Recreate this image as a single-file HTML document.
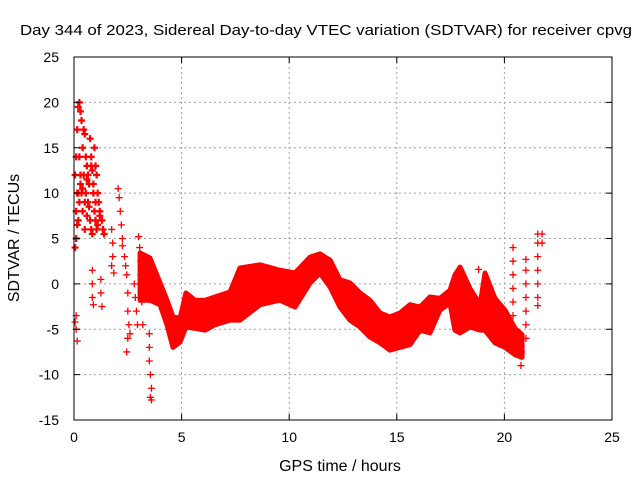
<!DOCTYPE html>
<html><head><meta charset="utf-8"><style>
html,body{margin:0;padding:0;background:#fff;}
svg{display:block;font-family:"Liberation Sans",Arial,sans-serif;}
</style></head><body>
<svg id="chart" width="640" height="480" viewBox="0 0 640 480" xmlns="http://www.w3.org/2000/svg">
<rect width="640" height="480" fill="#fff"/>
<text x="20" y="35" font-size="15" textLength="612" lengthAdjust="spacingAndGlyphs">Day 344 of 2023, Sidereal Day-to-day VTEC variation (SDTVAR) for receiver cpvg</text>
<text transform="translate(19,238) rotate(-90)" font-size="16" text-anchor="middle">SDTVAR / TECUs</text>
<text x="340" y="471" font-size="16" text-anchor="middle">GPS time / hours</text>
<g id="grid"></g>
<g id="marks"></g>
<rect x="74" y="57" width="538" height="363" fill="none" stroke="#000" stroke-width="1"/>
<g id="ticks"></g>
</svg>
<script>
const xTicks=[0,5,10,15,20,25];
const yTicks=[-15,-10,-5,0,5,10,15,20,25];
// main band: time, upper envelope, lower envelope
const bandT=[3.07,3.53,4.0,4.32,4.6,4.93,5.2,5.62,6.09,6.55,7.25,7.71,8.64,9.57,10.27,10.97,11.43,11.9,12.36,12.83,13.29,13.75,14.22,14.68,15.15,15.61,16.08,16.54,17.0,17.47,17.7,17.94,18.4,18.87,19.1,19.56,20.03,20.49,20.82];
const bandHi=[3.4,2.85,0.1,-1.8,-3.65,-3.8,-1.0,-1.8,-1.8,-1.45,-0.9,1.75,2.1,1.5,1.2,2.95,3.3,2.6,0.45,0.1,-1.0,-1.8,-3.2,-3.65,-3.2,-2.3,-2.55,-1.45,-1.6,-0.7,0.95,1.85,-0.5,-2.3,1.2,-1.6,-2.9,-4.9,-5.6];
const bandLo=[-1.8,-1.8,-2.3,-4.5,-7.0,-6.4,-4.75,-4.9,-5.1,-4.5,-4.0,-4.0,-2.3,-1.8,-2.55,0.1,1.2,-0.35,-2.55,-4.0,-4.75,-5.85,-6.5,-7.3,-7.0,-6.7,-5.1,-5.4,-2.9,-2.1,-5.1,-5.4,-4.75,-5.1,-5.1,-6.5,-7.0,-7.8,-8.1];
// early cluster points (time, value)
const earlyT=[0.05,0.1,0.15,0.2,0.25,0.3,0.35,0.1,0.2,0.3,0.4,0.45,0.5,0.55,0.6,0.65,0.7,0.75,0.8,0.85,0.9,0.95,1.0,1.05,1.1,1.15,1.2,0.05,0.1,0.15,0.2,0.25,0.3,0.35,0.4,0.5,0.6,0.7,0.8,0.9,1.0,1.1,1.2,0.45,0.55,0.65,0.75,0.85,0.95,1.05,1.3,1.35,1.4,0.25,0.4,0.6,0.8,1.0,0.15,0.5];
const earlyV=[12,14,17,19.5,20,19,18,8,10,12,15,17,16.5,14,13,12,11,16,14,12.5,11,15,13,12,10,9,8,4,5,6.5,7,9,11,10,8,9,7.5,8.5,6,10,7,6.5,7.5,12,10,9,7,5.5,8,6,7,6,5.5,14,10.5,11.5,13,9,10,6];
// scattered points
const ptT=[0.1,0.1,0.15,0.05,0.85,0.85,0.85,0.9,1.25,1.25,1.3,1.75,1.8,1.8,1.75,1.85,2.05,2.1,2.15,2.2,2.25,2.25,2.35,2.4,2.45,2.5,2.5,2.55,2.5,2.45,2.6,2.8,2.85,2.9,2.95,3.0,3.05,3.1,3.1,3.15,3.15,3.2,3.5,3.5,3.5,3.55,3.6,3.6,3.55,
 20.4,20.4,20.4,20.4,20.4,20.4,21.0,21.0,21.0,21.0,21.0,21.0,21.0,20.77,20.8,21.55,21.55,21.55,21.55,21.55,21.55,21.55,21.75,21.75,18.8];
const ptV=[-3.5,-5,-6.3,-4.2,1.5,0,-1.5,-2.3,0.5,-1,-2.5,6,4.5,3,2,1.2,10.5,9.5,8,6.5,5,4.2,3,2,1,-1,-3,-4.5,-6,-7.5,-5.5,0,-1.5,-3,-4.5,5.2,4,2.5,1,-0.5,-2,-4.5,-5.5,-7,-8.5,-10,-11.5,-12.8,-12.5,
 4,2.5,1,-0.5,-2,-3.5,2.7,1.5,0,-1.5,-3,-4.5,-6,-9,-7.5,5.5,4.5,3,1.5,0,-1.5,-2.4,5.5,4.5,1.6];
const X0=74,X1=612,Y0=420,Y1=57;
function sx(t){return X0+(t-0)*(X1-X0)/25;}
function sy(v){return Y0-(v+15)*(Y0-Y1)/40;}
const NS="http://www.w3.org/2000/svg";
const grid=document.getElementById('grid'),ticks=document.getElementById('ticks'),marks=document.getElementById('marks');
function mk(tag,attrs,parent){const e=document.createElementNS(NS,tag);for(const k in attrs)e.setAttribute(k,attrs[k]);parent.appendChild(e);return e;}
xTicks.forEach(t=>{
  const x=sx(t);
  if(t>0&&t<25){const g=mk('line',{x1:x,x2:x,y1:Y1,y2:Y0,stroke:'#a0a0a0','stroke-dasharray':'2,3'},grid);
  
  }
  mk('line',{x1:x,x2:x,y1:Y0,y2:Y0-6,stroke:'#000'},ticks);
  mk('line',{x1:x,x2:x,y1:Y1,y2:Y1+6,stroke:'#000'},ticks);
  const l=mk('text',{x:x,y:Y0+22,'font-size':14,'text-anchor':'middle'},ticks);l.textContent=t;
  
  
});
yTicks.forEach(v=>{
  const y=sy(v);
  if(v>-15&&v<25){const g=mk('line',{x1:X0,x2:X1,y1:y,y2:y,stroke:'#a0a0a0','stroke-dasharray':'2,3'},grid);
  
  }
  mk('line',{x1:X0,x2:X0+6,y1:y,y2:y,stroke:'#000'},ticks);
  mk('line',{x1:X1,x2:X1-6,y1:y,y2:y,stroke:'#000'},ticks);
  const l=mk('text',{x:X0-15,y:y+5,'font-size':14,'text-anchor':'end'},ticks);l.textContent=v;
  
  
});
function band(T,H,L,name){
  let d='M'+T.map((t,i)=>sx(t)+','+sy(H[i])).join('L');
  for(let i=T.length-1;i>=0;i--)d+='L'+sx(T[i])+','+sy(L[i]);
  const p=mk('path',{d:d+'Z',fill:'#ff0000',stroke:'#ff0000','stroke-width':5,'stroke-linejoin':'round'},marks);
  
  
}
band(bandT,bandHi,bandLo,'main-band');
function plus(t,v,w){
  const x=sx(t),y=sy(v);
  const p=mk('path',{d:`M${x-3.5},${y}H${x+3.5}M${x},${y-3.5}V${y+3.5}`,stroke:'#ff0000','stroke-width':w},marks);
  
  
}
ptT.forEach((t,i)=>plus(t,ptV[i],1.3));
earlyT.forEach((t,i)=>plus(t,earlyV[i],2.2));
</script>
</body></html>
